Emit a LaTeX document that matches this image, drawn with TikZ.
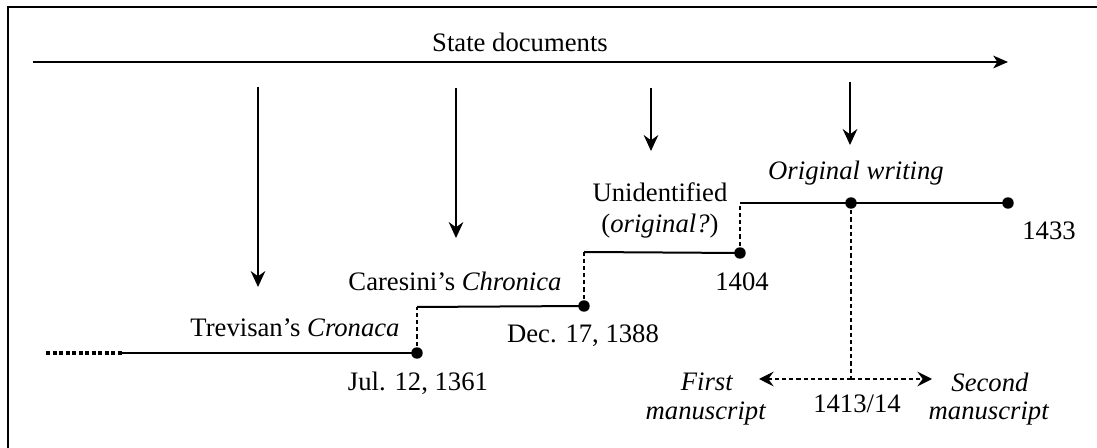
\documentclass[tikz,border=0pt]{standalone}
\usepackage{fontspec}
\setmainfont{Liberation Serif}
\usetikzlibrary{arrows.meta}
\tikzset{
  lbl/.style={font=\fontsize{20}{24}\selectfont, inner sep=0pt, anchor=base},
  frameline/.style={line width=1.9pt},
  mainarrow/.style={line width=1.6pt, -{Stealth[length=11pt,width=9.5pt,inset=3pt]}},
  downarrow/.style={line width=1pt, -{Stealth[length=12pt,width=11pt,inset=4pt]}},
  tline/.style={line width=1.5pt},
  thinline/.style={line width=1.1pt},
  dashline/.style={line width=1pt, dash pattern=on 3.2pt off 2.2pt},
  dotline/.style={line width=2.6pt, dash pattern=on 3pt off 1.9pt},
  dasharrow/.style={line width=1pt, dash pattern=on 3.2pt off 2.2pt, -{Stealth[length=11pt,width=11pt,inset=4pt]}},
  dot/.style={fill=black}
}
\begin{document}
\begin{tikzpicture}[x=0.75pt,y=-0.75pt]
\useasboundingbox (0,0) rectangle (1097,448);
% frame (only top and left visible)
\coordinate (fbl) at (8,448);
\coordinate (ftl) at (8,7);
\coordinate (ftr) at (1097,7);
\draw[frameline] (fbl) -- (ftl) -- (ftr);
% main arrow
\coordinate (ms) at (33,62);
\coordinate (me) at (1008,62);
\draw[mainarrow] (ms) -- (me);
\node[lbl] (state) at (520,52) {State documents};
% downward arrows
\coordinate (a1s) at (258,87);  \coordinate (a1e) at (258,287);
\coordinate (a2s) at (456,88);  \coordinate (a2e) at (456,238);
\coordinate (a3s) at (651,88);  \coordinate (a3e) at (651,151);
\coordinate (a4s) at (850,82);  \coordinate (a4e) at (850,145);
\draw[downarrow] (a1s) -- (a1e);
\draw[downarrow] (a2s) -- (a2e);
\draw[downarrow] (a3s) -- (a3e);
\draw[downarrow] (a4s) -- (a4e);
% timeline points
\coordinate (p0) at (46,353);
\coordinate (p1) at (122,353);
\coordinate (d1) at (417,353);
\coordinate (c2) at (417,307);
\coordinate (d2) at (584,306);
\coordinate (c3) at (584,252);
\coordinate (d3) at (740,253);
\coordinate (c4) at (740,203);
\coordinate (d4) at (851,203);
\coordinate (d5) at (1008,203);
\coordinate (br) at (851,379);
\coordinate (fl) at (759,379);
\coordinate (fr) at (932,379);
\draw[dotline] (p0) -- (p1);
\draw[tline] (p1) -- (d1);
\draw[dashline] (d1) -- (c2);
\draw[tline] (c2) -- (d2);
\draw[dashline] (d2) -- (c3);
\draw[tline] (c3) -- (d3);
\draw[dashline] (d3) -- (c4);
\draw[tline] (c4) -- (d4);
\draw[thinline] (d4) -- (d5);
\draw[dashline] (d4) -- (br);
\draw[dasharrow] (br) -- (fl);
\draw[dasharrow] (br) -- (fr);
\foreach \p in {d1,d2,d3,d4,d5} \fill[dot] (\p) circle (4.3pt);
% labels
\node[lbl] (trev) at (295,337) {Trevisan’s \textit{Cronaca}};
\node[lbl] (jul) at (418,391) {Jul. 12, 1361};
\node[lbl] (care) at (455,291) {Caresini’s \textit{Chronica}};
\node[lbl] (dec) at (583,343) {Dec. 17, 1388};
\node[lbl] (unid) at (660,202) {Unidentified};
\node[lbl] (orig) at (660,233) {(\textit{original?})};
\node[lbl] (y1404) at (742,291) {1404};
\node[lbl] (origw) at (856,180) {\textit{Original writing}};
\node[lbl] (y1433) at (1049,240) {1433};
\node[lbl] (first) at (707,391) {\textit{First}};
\node[lbl] (firstm) at (706,420) {\textit{manuscript}};
\node[lbl] (second) at (990,392) {\textit{Second}};
\node[lbl] (secondm) at (989,420) {\textit{manuscript}};
\node[lbl] (y1413) at (857,413) {1413/14};
\end{tikzpicture}
\end{document}
